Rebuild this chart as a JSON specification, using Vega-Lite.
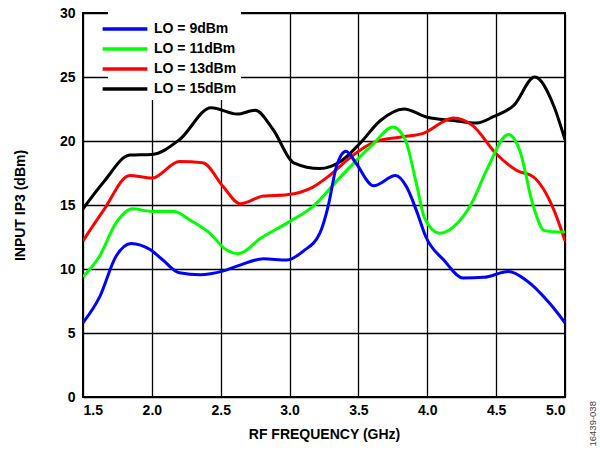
{
  "$schema": "https://vega.github.io/schema/vega-lite/v6.json",
  "autosize": {"type": "none"},
  "padding": {"left": 83, "top": 13, "right": 35, "bottom": 53},
  "width": 482,
  "height": 384,
  "background": "white",
  "config": {
    "font": "Liberation Sans",
    "view": {"stroke": "black", "strokeWidth": 2},
    "axis": {
      "grid": true, "gridColor": "black", "gridOpacity": 1, "gridWidth": 1.3,
      "domain": false, "ticks": false,
      "labelFont": "Liberation Sans", "labelFontWeight": "bold", "labelFontSize": 14, "labelColor": "black",
      "titleFont": "Liberation Sans", "titleFontWeight": "bold", "titleFontSize": 14, "titleColor": "black"
    }
  },
  "resolve": {"axis": {"y": "independent"}},
  "data": {"values": [
    {"f":1.5,"v":14.7,"s":"LO = 15dBm"},{"f":1.65,"v":16.8,"s":"LO = 15dBm"},{"f":1.84,"v":18.9,"s":"LO = 15dBm"},{"f":2.0,"v":18.95,"s":"LO = 15dBm"},{"f":2.2,"v":20.1,"s":"LO = 15dBm"},{"f":2.43,"v":22.6,"s":"LO = 15dBm"},{"f":2.62,"v":22.1,"s":"LO = 15dBm"},{"f":2.75,"v":22.4,"s":"LO = 15dBm"},{"f":2.88,"v":20.9,"s":"LO = 15dBm"},{"f":3.03,"v":18.3,"s":"LO = 15dBm"},{"f":3.22,"v":17.85,"s":"LO = 15dBm"},{"f":3.37,"v":18.4,"s":"LO = 15dBm"},{"f":3.51,"v":19.8,"s":"LO = 15dBm"},{"f":3.66,"v":21.6,"s":"LO = 15dBm"},{"f":3.83,"v":22.5,"s":"LO = 15dBm"},{"f":4.0,"v":21.85,"s":"LO = 15dBm"},{"f":4.19,"v":21.6,"s":"LO = 15dBm"},{"f":4.36,"v":21.4,"s":"LO = 15dBm"},{"f":4.48,"v":21.9,"s":"LO = 15dBm"},{"f":4.63,"v":22.8,"s":"LO = 15dBm"},{"f":4.78,"v":25.0,"s":"LO = 15dBm"},{"f":4.92,"v":22.7,"s":"LO = 15dBm"},{"f":5.0,"v":20.1,"s":"LO = 15dBm"},

    {"f":1.5,"v":12.2,"s":"LO = 13dBm"},{"f":1.65,"v":14.6,"s":"LO = 13dBm"},{"f":1.84,"v":17.3,"s":"LO = 13dBm"},{"f":2.0,"v":17.1,"s":"LO = 13dBm"},{"f":2.2,"v":18.4,"s":"LO = 13dBm"},{"f":2.37,"v":18.3,"s":"LO = 13dBm"},{"f":2.52,"v":16.4,"s":"LO = 13dBm"},{"f":2.64,"v":15.1,"s":"LO = 13dBm"},{"f":2.81,"v":15.7,"s":"LO = 13dBm"},{"f":2.98,"v":15.8,"s":"LO = 13dBm"},{"f":3.17,"v":16.4,"s":"LO = 13dBm"},{"f":3.29,"v":17.3,"s":"LO = 13dBm"},{"f":3.45,"v":18.8,"s":"LO = 13dBm"},{"f":3.61,"v":19.9,"s":"LO = 13dBm"},{"f":3.8,"v":20.3,"s":"LO = 13dBm"},{"f":3.97,"v":20.6,"s":"LO = 13dBm"},{"f":4.19,"v":21.8,"s":"LO = 13dBm"},{"f":4.33,"v":21.2,"s":"LO = 13dBm"},{"f":4.5,"v":19.0,"s":"LO = 13dBm"},{"f":4.65,"v":17.7,"s":"LO = 13dBm"},{"f":4.77,"v":17.2,"s":"LO = 13dBm"},{"f":4.92,"v":14.6,"s":"LO = 13dBm"},{"f":5.0,"v":12.2,"s":"LO = 13dBm"},

    {"f":1.5,"v":9.4,"s":"LO = 11dBm"},{"f":1.62,"v":11.0,"s":"LO = 11dBm"},{"f":1.74,"v":13.6,"s":"LO = 11dBm"},{"f":1.86,"v":14.7,"s":"LO = 11dBm"},{"f":2.0,"v":14.5,"s":"LO = 11dBm"},{"f":2.16,"v":14.5,"s":"LO = 11dBm"},{"f":2.28,"v":13.8,"s":"LO = 11dBm"},{"f":2.42,"v":12.8,"s":"LO = 11dBm"},{"f":2.54,"v":11.5,"s":"LO = 11dBm"},{"f":2.63,"v":11.2,"s":"LO = 11dBm"},{"f":2.79,"v":12.4,"s":"LO = 11dBm"},{"f":3.0,"v":13.7,"s":"LO = 11dBm"},{"f":3.17,"v":14.9,"s":"LO = 11dBm"},{"f":3.37,"v":17.2,"s":"LO = 11dBm"},{"f":3.61,"v":19.8,"s":"LO = 11dBm"},{"f":3.75,"v":21.1,"s":"LO = 11dBm"},{"f":3.84,"v":20.1,"s":"LO = 11dBm"},{"f":3.92,"v":16.7,"s":"LO = 11dBm"},{"f":3.98,"v":14.0,"s":"LO = 11dBm"},{"f":4.09,"v":12.8,"s":"LO = 11dBm"},{"f":4.22,"v":13.6,"s":"LO = 11dBm"},{"f":4.32,"v":15.1,"s":"LO = 11dBm"},{"f":4.43,"v":17.7,"s":"LO = 11dBm"},{"f":4.59,"v":20.5,"s":"LO = 11dBm"},{"f":4.67,"v":19.3,"s":"LO = 11dBm"},{"f":4.77,"v":14.9,"s":"LO = 11dBm"},{"f":4.85,"v":13.0,"s":"LO = 11dBm"},{"f":4.95,"v":12.9,"s":"LO = 11dBm"},{"f":5.0,"v":12.9,"s":"LO = 11dBm"},

    {"f":1.5,"v":5.8,"s":"LO = 9dBm"},{"f":1.62,"v":7.8,"s":"LO = 9dBm"},{"f":1.74,"v":11.0,"s":"LO = 9dBm"},{"f":1.85,"v":12.0,"s":"LO = 9dBm"},{"f":1.99,"v":11.5,"s":"LO = 9dBm"},{"f":2.08,"v":10.7,"s":"LO = 9dBm"},{"f":2.2,"v":9.7,"s":"LO = 9dBm"},{"f":2.35,"v":9.55,"s":"LO = 9dBm"},{"f":2.52,"v":9.85,"s":"LO = 9dBm"},{"f":2.64,"v":10.3,"s":"LO = 9dBm"},{"f":2.81,"v":10.8,"s":"LO = 9dBm"},{"f":2.98,"v":10.7,"s":"LO = 9dBm"},{"f":3.1,"v":11.4,"s":"LO = 9dBm"},{"f":3.22,"v":12.8,"s":"LO = 9dBm"},{"f":3.28,"v":14.9,"s":"LO = 9dBm"},{"f":3.34,"v":18.0,"s":"LO = 9dBm"},{"f":3.41,"v":19.2,"s":"LO = 9dBm"},{"f":3.48,"v":18.3,"s":"LO = 9dBm"},{"f":3.61,"v":16.5,"s":"LO = 9dBm"},{"f":3.77,"v":17.3,"s":"LO = 9dBm"},{"f":3.85,"v":16.4,"s":"LO = 9dBm"},{"f":3.92,"v":14.6,"s":"LO = 9dBm"},{"f":3.99,"v":12.5,"s":"LO = 9dBm"},{"f":4.12,"v":10.7,"s":"LO = 9dBm"},{"f":4.26,"v":9.3,"s":"LO = 9dBm"},{"f":4.41,"v":9.35,"s":"LO = 9dBm"},{"f":4.59,"v":9.8,"s":"LO = 9dBm"},{"f":4.72,"v":9.1,"s":"LO = 9dBm"},{"f":4.89,"v":7.3,"s":"LO = 9dBm"},{"f":5.0,"v":5.8,"s":"LO = 9dBm"}
  ]},
  "layer": [
    {
      "mark": {"type": "line", "interpolate": "monotone", "strokeWidth": 3, "clip": true},
      "encoding": {
        "x": {"field": "f", "type": "quantitative", "scale": {"domain": [1.5, 5.0], "nice": false, "zero": false},
              "axis": {"values": [1.5,2.0,2.5,3.0,3.5,4.0,4.5,5.0], "format": ".1f", "title": "RF FREQUENCY (GHz)", "labelPadding": 6, "titlePadding": 10}},
        "y": {"field": "v", "type": "quantitative", "scale": {"domain": [0, 30], "nice": false},
              "axis": {"orient": "left", "values": [0,5,10,15,20,25,30], "title": "INPUT IP3 (dBm)", "labelPadding": 8, "titlePadding": 32}},
        "color": {"field": "s", "type": "nominal",
                  "scale": {"domain": ["LO = 9dBm","LO = 11dBm","LO = 13dBm","LO = 15dBm"], "range": ["#0000FF","#00FF00","#FF0000","#000000"]},
                  "sort": ["LO = 9dBm","LO = 11dBm","LO = 13dBm","LO = 15dBm"],
                  "legend": {"orient": "none", "legendX": 25, "legendY": -1, "title": null, "fillColor": "white", "padding": 4,
                             "symbolType": "M-2,0H2", "symbolSize": 500, "symbolStrokeWidth": 3.5,
                             "labelFont": "Liberation Sans", "labelFontWeight": "bold", "labelFontSize": 14, "labelColor": "black",
                             "rowPadding": -2, "labelOffset": 16}}
      }
    },
    {
      "mark": {"type": "rule", "opacity": 0},
      "encoding": {
        "y": {"datum": 0, "type": "quantitative", "scale": {"domain": [0, 30], "nice": false},
              "axis": {"orient": "right", "grid": false, "labels": false, "title": "16439-038", "titleFontSize": 9.5, "titleFontWeight": "normal", "titleColor": "#444444", "titleAngle": 270, "titleAlign": "left", "titleBaseline": "middle", "titleY": 433, "titleX": 27}}
      }
    }
  ]
}
